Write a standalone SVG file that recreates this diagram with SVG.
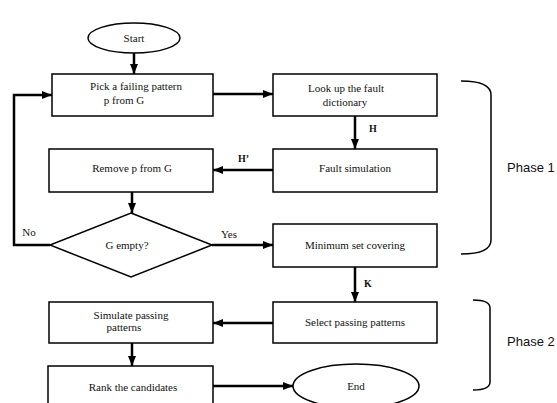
<svg xmlns="http://www.w3.org/2000/svg" width="557" height="403" viewBox="0 0 557 403">
<defs>
<marker id="ah" markerWidth="10" markerHeight="8" refX="10" refY="4" orient="auto" markerUnits="userSpaceOnUse">
<path d="M0,0 L10,4 L0,8 Z" fill="#000"/>
</marker>
<style>
.box{fill:#fff;stroke:#000;stroke-width:1.5}
.t{font-family:"Liberation Serif","Times New Roman",serif;font-size:11px;fill:#111;text-anchor:middle}
.lb{font-family:"Liberation Serif","Times New Roman",serif;font-size:10px;font-weight:bold;fill:#111}
.ph{font-family:"Liberation Sans",Arial,sans-serif;font-size:13px;fill:#111}
.c{fill:none;stroke:#000;stroke-width:2.5}
.br{fill:none;stroke:#000;stroke-width:1.5}
</style>
</defs>
<rect width="557" height="403" fill="#fff"/>
<g id="connectors">
<path class="c" d="M134,53 V74" marker-end="url(#ah)"/>
<path class="c" d="M213,94 H273" marker-end="url(#ah)"/>
<path class="c" d="M355,116 V149" marker-end="url(#ah)"/>
<path class="c" d="M273,170 H213" marker-end="url(#ah)"/>
<path class="c" d="M132,192 V213" marker-end="url(#ah)"/>
<path class="c" d="M50,245 H14 V95 H52" marker-end="url(#ah)"/>
<path class="c" d="M212,245 H273" marker-end="url(#ah)"/>
<path class="c" d="M355,267 V302" marker-end="url(#ah)"/>
<path class="c" d="M273,323 H213" marker-end="url(#ah)"/>
<path class="c" d="M132,343 V366" marker-end="url(#ah)"/>
<path class="c" d="M212,386 H293" marker-end="url(#ah)"/>
<text class="lb" x="369" y="132">H</text>
<text class="lb" x="238" y="162">H’</text>
<text class="lb" x="364" y="287">K</text>
<text class="t" x="29" y="236" style="text-anchor:middle">No</text>
<text class="t" x="229" y="238" style="text-anchor:middle">Yes</text>
</g>
<g id="start">
<ellipse class="box" cx="134" cy="38" rx="46" ry="15"/>
<text class="t" x="134" y="42">Start</text>
</g>
<g id="pick">
<rect class="box" x="52" y="74" width="161" height="42"/>
<text class="t" x="136" y="90">Pick a failing pattern</text>
<text class="t" x="124" y="104">p from G</text>
</g>
<g id="lookup">
<rect class="box" x="273" y="74" width="164" height="42"/>
<text class="t" x="346" y="92">Look up the fault</text>
<text class="t" x="345" y="106">dictionary</text>
</g>
<g id="faultsim">
<rect class="box" x="273" y="149" width="164" height="43"/>
<text class="t" x="355" y="172">Fault simulation</text>
</g>
<g id="remove">
<rect class="box" x="49" y="149" width="164" height="43"/>
<text class="t" x="132" y="172">Remove p from G</text>
</g>
<g id="gempty">
<path class="box" d="M131,213 L212,245 L131,277 L50,245 Z"/>
<text class="t" x="127" y="249">G empty?</text>
</g>
<g id="minset">
<rect class="box" x="273" y="224" width="164" height="43"/>
<text class="t" x="355" y="249">Minimum set covering</text>
</g>
<g id="select">
<rect class="box" x="273" y="302" width="164" height="41"/>
<text class="t" x="355" y="326">Select passing patterns</text>
</g>
<g id="simulate">
<rect class="box" x="49" y="302" width="164" height="41"/>
<text class="t" x="131" y="319">Simulate passing</text>
<text class="t" x="124" y="331">patterns</text>
</g>
<g id="rank">
<rect class="box" x="48" y="366" width="165" height="50"/>
<text class="t" x="133" y="391">Rank the candidates</text>
</g>
<g id="end">
<ellipse class="box" cx="356" cy="386" rx="63" ry="22"/>
<text class="t" x="356" y="390">End</text>
</g>
<g id="phase1">
<path class="br" d="M461,81 C478,81 491,85 491,95 V240 C491,250 478,254 461,254"/>
<text class="ph" x="507" y="172">Phase 1</text>
</g>
<g id="phase2">
<path class="br" d="M473,300 C484,300 490,302 490,308 V382 C490,388 484,390 473,390"/>
<text class="ph" x="507" y="346">Phase 2</text>
</g>
</svg>
